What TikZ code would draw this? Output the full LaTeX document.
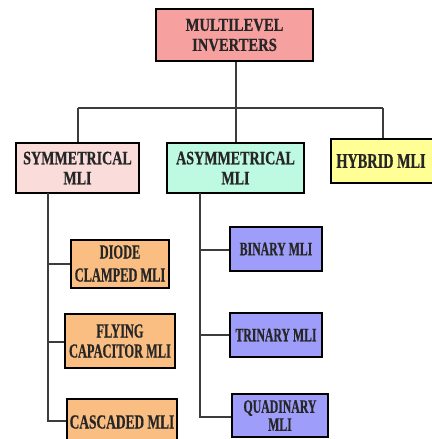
\documentclass[tikz,border=0pt]{standalone}
\usepackage{fontspec}
\setmainfont{Liberation Serif}
\newfontfamily\fTop[FakeStretch=0.79,FakeBold=0.6]{Liberation Serif}
\newfontfamily\fMid[FakeStretch=0.74,FakeBold=0.6]{Liberation Serif}
\newfontfamily\fHyb[FakeStretch=0.68,FakeBold=0.6]{Liberation Serif}
\newfontfamily\fCas[FakeStretch=0.67,FakeBold=0.6]{Liberation Serif}
\newfontfamily\fNar[FakeStretch=0.62,FakeBold=0.6]{Liberation Serif}
\definecolor{cTop}{RGB}{246,160,160}
\definecolor{cSym}{RGB}{250,220,218}
\definecolor{cAsym}{RGB}{190,250,225}
\definecolor{cHyb}{RGB}{255,255,150}
\definecolor{cOr}{RGB}{250,190,130}
\definecolor{cBl}{RGB}{158,158,250}
\definecolor{cLine}{RGB}{60,60,60}
\begin{document}
\begin{tikzpicture}[x=1pt,y=-1pt,
  box/.style={draw=black, line width=2pt, inner sep=0pt, align=center, text=black!85},
  conn/.style={draw=cLine, line width=1.3pt}]
\useasboundingbox (0,0) rectangle (431,439);
\fill[white] (0,0) rectangle (431,439);
% top
\node[box, fill=cTop, minimum width=157pt, minimum height=52pt,
  font=\fTop\fontsize{18.5}{20}\selectfont\bfseries] (top) at (234.5,35) {MULTILEVEL\\INVERTERS};
% level 2
\node[box, fill=cSym, minimum width=123pt, minimum height=50pt,
  font=\fMid\fontsize{19}{20}\selectfont\bfseries] (sym) at (77.5,168) {\raisebox{-2pt}{SYMMETRICAL}\\\raisebox{-2pt}{MLI}};
\node[box, fill=cAsym, minimum width=137pt, minimum height=50pt,
  font=\fMid\fontsize{19}{20}\selectfont\bfseries] (asym) at (235.5,168) {\raisebox{-2pt}{ASYMMETRICAL}\\\raisebox{-2pt}{MLI}};
\node[box, fill=cHyb, minimum width=110pt, minimum height=44pt,
  font=\fHyb\fontsize{21}{22}\selectfont\bfseries] (hyb) at (386,161) {\hspace*{-10pt}\raisebox{-2pt}{HYBRID MLI}};
% symmetrical children
\node[box, fill=cOr, minimum width=98pt, minimum height=48pt,
  font=\fNar\fontsize{20}{23}\selectfont\bfseries] (diode) at (120,263.5) {\raisebox{-3pt}{DIODE}\\\raisebox{-3pt}{CLAMPED MLI}};
\node[box, fill=cOr, minimum width=110pt, minimum height=54pt,
  font=\fNar\fontsize{20}{20}\selectfont\bfseries] (fly) at (120,341) {\raisebox{-2pt}{FLYING}\\\raisebox{-2pt}{CAPACITOR MLI}};
\node[box, fill=cOr, minimum width=110pt, minimum height=46pt,
  font=\fCas\fontsize{20}{20}\selectfont\bfseries] (casc) at (122,422) {CASCADED MLI};
% asymmetrical children
\node[box, fill=cBl, minimum width=92pt, minimum height=44pt,
  font=\fNar\fontsize{19}{20}\selectfont\bfseries] (bin) at (276,249) {BINARY MLI};
\node[box, fill=cBl, minimum width=92pt, minimum height=44pt,
  font=\fNar\fontsize{19}{20}\selectfont\bfseries] (tri) at (276,335) {TRINARY MLI};
\node[box, fill=cBl, minimum width=96pt, minimum height=43pt,
  font=\fNar\fontsize{19}{18}\selectfont\bfseries] (quad) at (280,415.5) {QUADINARY\\MLI};
% connectors
\coordinate (busL) at (78,108);
\coordinate (busM) at (236,108);
\coordinate (busR) at (383,108);
\draw[conn] (top.south -| busM) -- (busM);
\draw[conn] (busL) -- (busR);
\draw[conn] (busL) -- (busL |- sym.north);
\draw[conn] (busM) -- (busM |- asym.north);
\draw[conn] (busR) -- (busR |- hyb.north);
\coordinate (sv) at (48,193);
\draw[conn] (sv) -- (48,421) -- (casc.west |- 48,421);
\draw[conn] (48,264) -- (diode.west |- 48,264);
\draw[conn] (48,342) -- (fly.west |- 48,342);
\coordinate (av) at (200,193);
\draw[conn] (av) -- (200,417) -- (quad.west |- 200,417);
\draw[conn] (200,250) -- (bin.west |- 200,250);
\draw[conn] (200,335) -- (tri.west |- 200,335);
\end{tikzpicture}
\end{document}
